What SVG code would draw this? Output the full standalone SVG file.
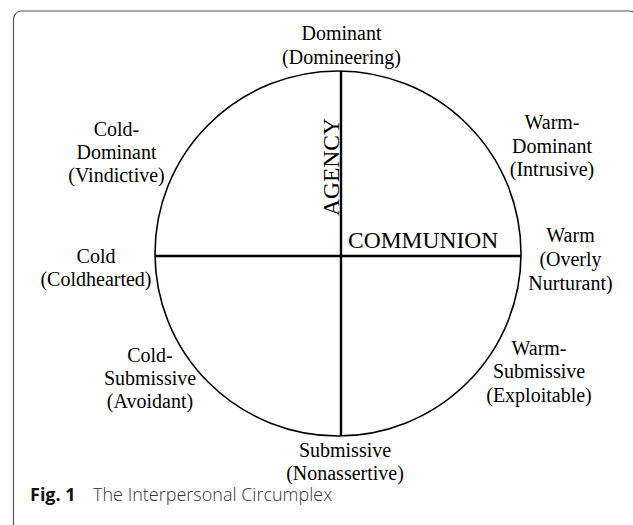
<svg xmlns="http://www.w3.org/2000/svg" width="633" height="525" viewBox="0 0 633 525">
  <style>
    .lbl { font-family: "Liberation Serif", "Times New Roman", serif; font-size: 20px; fill: #000; text-anchor: middle; }
    .axis-name { font-family: "Liberation Serif", "Times New Roman", serif; font-size: 23.5px; fill: #000; }
    .axis { stroke: #000; stroke-width: 2.4; fill: none; }
    .cap { font-family: "Open Sans", "Liberation Sans", sans-serif; font-size: 18px; fill: #333; }
  </style>
  <rect width="633" height="525" fill="#fff"/>
  <!-- figure frame -->
  <rect x="13.5" y="11" width="624" height="522" rx="8" fill="none" stroke="#555" stroke-width="1.2"/>

  <g id="circumplex">
    <ellipse cx="338" cy="253.5" rx="183" ry="182.5" fill="none" stroke="#000" stroke-width="1.6"/>
  </g>

  <g id="connectors">
    <line class="axis" x1="341" y1="71" x2="341" y2="436"/>
    <line class="axis" x1="155" y1="256" x2="521" y2="256"/>
  </g>

  <g id="agency">
    <text class="axis-name" transform="translate(339,167) rotate(-90)" text-anchor="middle">AGENCY</text>
  </g>
  <g id="communion">
    <text class="axis-name" x="348" y="248">COMMUNION</text>
  </g>

  <g id="dominant">
    <text class="lbl" x="341.5" y="40">Dominant</text>
    <text class="lbl" x="341.5" y="64">(Domineering)</text>
  </g>
  <g id="cold-dominant">
    <text class="lbl" x="116.5" y="136">Cold-</text>
    <text class="lbl" x="116.5" y="159">Dominant</text>
    <text class="lbl" x="116.5" y="182">(Vindictive)</text>
  </g>
  <g id="warm-dominant">
    <text class="lbl" x="552" y="129">Warm-</text>
    <text class="lbl" x="552" y="153">Dominant</text>
    <text class="lbl" x="552" y="176">(Intrusive)</text>
  </g>
  <g id="cold">
    <text class="lbl" x="96" y="263">Cold</text>
    <text class="lbl" x="96" y="286">(Coldhearted)</text>
  </g>
  <g id="warm">
    <text class="lbl" x="570.5" y="242">Warm</text>
    <text class="lbl" x="570.5" y="266">(Overly</text>
    <text class="lbl" x="570.5" y="290">Nurturant)</text>
  </g>
  <g id="cold-submissive">
    <text class="lbl" x="150" y="362">Cold-</text>
    <text class="lbl" x="150" y="385">Submissive</text>
    <text class="lbl" x="150" y="408">(Avoidant)</text>
  </g>
  <g id="warm-submissive">
    <text class="lbl" x="539" y="355">Warm-</text>
    <text class="lbl" x="539" y="378">Submissive</text>
    <text class="lbl" x="539" y="402">(Exploitable)</text>
  </g>
  <g id="submissive">
    <text class="lbl" x="345" y="457">Submissive</text>
    <text class="lbl" x="345" y="480">(Nonassertive)</text>
  </g>

  <g id="caption">
    <text class="cap" x="30" y="501"><tspan font-weight="700" fill="#111">Fig. 1</tspan><tspan x="93" font-weight="300">The Interpersonal Circumplex</tspan></text>
  </g>
</svg>
